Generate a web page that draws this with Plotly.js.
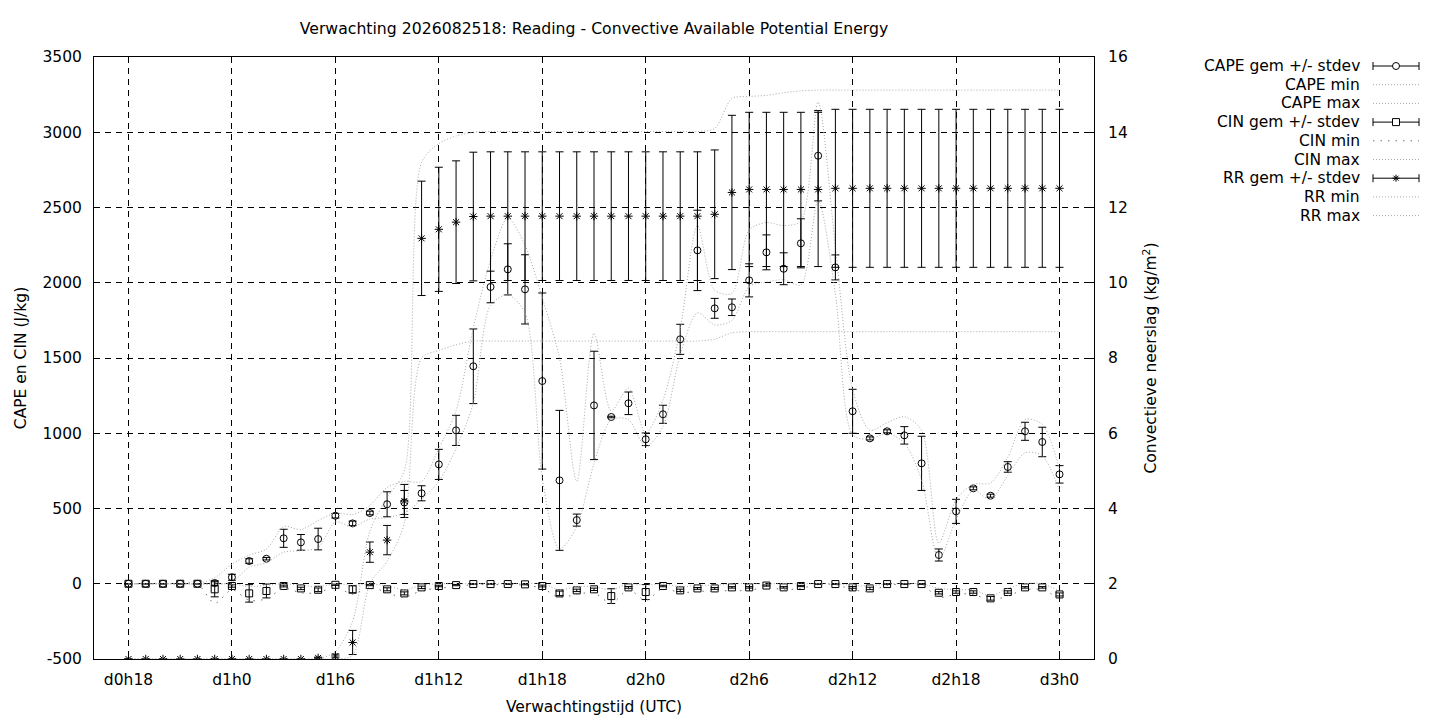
<!DOCTYPE html>
<html>
<head>
<meta charset="utf-8">
<script src="https://cdn.plot.ly/plotly-3.0.1.min.js"></script>
<style>
  html, body { margin: 0; padding: 0; background: #fff; }
  #plot { width: 1440px; height: 720px; }
</style>
</head>
<body>
<div id="plot"></div>
<script>
// forecast hours from d0h0 (run 2026082518)
var hours = [18, 19, 20, 21, 22, 23, 24, 25, 26, 27, 28, 29, 30, 31, 32, 33, 34, 35, 36,
             37, 38, 39, 40, 41, 42, 43, 44, 45, 46, 47, 48, 49, 50, 51, 52, 53, 54, 55,
             56, 57, 58, 59, 60, 61, 62, 63, 64, 65, 66, 67, 68, 69, 70, 71, 72];

var tickHours  = [18, 24, 30, 36, 42, 48, 54, 60, 66, 72];
var tickLabels = ['d0h18', 'd1h0', 'd1h6', 'd1h12', 'd1h18', 'd2h0', 'd2h6', 'd2h12', 'd2h18', 'd3h0'];

// left axis ticks, with a plain hyphen for the minus like gnuplot
var energyTicks  = [-500, 0, 500, 1000, 1500, 2000, 2500, 3000, 3500];
var energyLabels = ['-500', '0', '500', '1000', '1500', '2000', '2500', '3000', '3500'];

// CAPE (J/kg)
var capeMean = [0, 0, 0, 0, 0, 5, 43, 151, 166, 302, 275, 297, 452, 401, 470, 528, 540, 601, 793,
                1019, 1445, 1972, 2089, 1956, 1347, 687, 423, 1185, 1108, 1199, 960, 1126, 1624, 2215, 1830, 1837, 2016, 2202,
                2093, 2262, 2844, 2102, 1146, 966, 1013, 986, 800, 191, 481, 634, 585, 776, 1013, 942, 727];
var capeStd  = [0, 0, 0, 0, 0, 15, 20, 15, 8, 60, 52, 72, 15, 15, 12, 83, 80, 50, 100,
                100, 248, 105, 170, 230, 585, 465, 40, 360, 5, 75, 42, 60, 100, 267, 66, 55, 110, 116,
                106, 163, 300, 83, 146, 10, 10, 58, 180, 40, 80, 10, 10, 35, 60, 98, 58];
var capeMin  = [0, 0, 0, 0, 0, 0, 10, 110, 140, 210, 220, 240, 410, 380, 430, 440, 470, 560, 680,
                900, 1200, 1850, 1920, 1800, 700, 230, 380, 800, 1090, 1090, 910, 1045, 1520, 1800, 1720, 1750, 1975, 2005,
                2020, 1985, 2550, 1930, 990, 960, 1000, 935, 690, 160, 425, 620, 560, 720, 870, 850, 620];
var capeMax  = [0, 0, 0, 0, 0, 40, 130, 190, 230, 380, 360, 420, 470, 460, 520, 640, 680, 680, 900,
                1150, 1700, 2150, 2430, 2250, 1900, 1500, 680, 1665, 1150, 1300, 1000, 1220, 1690, 2380, 1950, 1930, 2350, 2400,
                2380, 2410, 3200, 2240, 1290, 1020, 1070, 1110, 1020, 270, 560, 660, 670, 840, 1090, 1060, 760];

// CIN (J/kg)
var cinMean = [0, 0, 0, 0, 0, -37, -15, -64, -48, -15, -31, -40, -7, -37, -9, -37, -64, -24, -15,
               -9, -2, -2, -2, -4, -15, -64, -44, -37, -82, -24, -55, -15, -44, -31, -31, -24, -24, -12,
               -24, -15, -2, -2, -24, -31, -2, -2, -2, -60, -55, -55, -97, -55, -24, -24, -71];
var cinStd  = [0, 0, 0, 0, 0, 50, 8, 58, 46, 6, 8, 12, 4, 25, 4, 10, 10, 8, 5,
               4, 2, 2, 2, 3, 6, 15, 8, 8, 49, 6, 50, 5, 8, 6, 6, 5, 5, 4,
               5, 4, 2, 2, 6, 8, 2, 2, 2, 8, 8, 8, 12, 8, 5, 5, 10];
var cinMin  = [0, 0, 0, 0, 0, -130, -40, -110, -100, -30, -60, -60, -20, -70, -20, -60, -90, -45, -30,
               -20, -5, -5, -5, -10, -30, -90, -70, -60, -130, -40, -110, -30, -60, -50, -50, -45, -45, -20,
               -40, -30, -5, -5, -40, -50, -10, -5, -5, -90, -70, -70, -110, -80, -40, -40, -100];
var cinMax  = [0, 0, 0, 0, 0, -5, 0, -20, -10, 0, -10, -20, 0, -10, 0, -15, -40, -10, 0,
               0, 0, 0, 0, 0, 0, -40, -20, -20, -40, 0, -10, 0, -20, -10, -10, 0, 0, 0,
               0, 0, 0, 0, -10, -15, 0, 0, 0, -30, -40, -40, -80, -30, 0, 0, -50];

// convective precipitation (kg/m2)
var rrMean = [0, 0, 0, 0, 0, 0, 0, 0, 0, 0, 0, 0.03, 0.08, 0.44, 2.84, 3.16, 4.2, 11.18, 11.42,
              11.61, 11.76, 11.77, 11.77, 11.77, 11.77, 11.77, 11.77, 11.77, 11.77, 11.77, 11.77, 11.77, 11.77, 11.77, 11.82, 12.40, 12.48, 12.48,
              12.48, 12.48, 12.48, 12.51, 12.51, 12.51, 12.51, 12.51, 12.51, 12.51, 12.51, 12.51, 12.51, 12.51, 12.51, 12.51, 12.51];
var rrStd  = [0, 0, 0, 0, 0, 0, 0, 0, 0, 0, 0, 0.02, 0.05, 0.32, 0.27, 0.39, 0.44, 1.52, 1.65,
              1.63, 1.71, 1.71, 1.71, 1.71, 1.71, 1.71, 1.71, 1.71, 1.71, 1.71, 1.71, 1.71, 1.71, 1.71, 1.71, 2.05, 2.05, 2.05,
              2.05, 2.05, 2.05, 2.1, 2.1, 2.1, 2.1, 2.1, 2.1, 2.1, 2.1, 2.1, 2.1, 2.1, 2.1, 2.1, 2.1];
var rrMin  = [0, 0, 0, 0, 0, 0, 0, 0, 0, 0, 0, 0, 0, 0.1, 2.0, 2.6, 3.6, 8.0, 8.2,
              8.35, 8.45, 8.45, 8.45, 8.45, 8.45, 8.45, 8.45, 8.45, 8.45, 8.45, 8.45, 8.45, 8.45, 8.45, 8.5, 8.67, 8.7, 8.7,
              8.7, 8.7, 8.7, 8.7, 8.7, 8.7, 8.7, 8.7, 8.7, 8.7, 8.7, 8.7, 8.7, 8.7, 8.7, 8.7, 8.7];
var rrMax  = [0, 0, 0, 0, 0, 0, 0, 0, 0, 0, 0, 0, 0.2, 1.0, 3.4, 4.3, 5.0, 13.2, 13.7,
              13.9, 14.0, 14.02, 14.02, 14.02, 14.02, 14.02, 14.02, 14.02, 14.02, 14.02, 14.02, 14.02, 14.02, 14.02, 14.1, 14.9, 14.95, 14.98,
              15.05, 15.1, 15.12, 15.12, 15.12, 15.12, 15.12, 15.12, 15.12, 15.12, 15.12, 15.12, 15.12, 15.12, 15.12, 15.12, 15.12];

var legendNames = ['CAPE gem +/- stdev', 'CAPE min', 'CAPE max',
                   'CIN gem +/- stdev', 'CIN min', 'CIN max',
                   'RR gem +/- stdev', 'RR min', 'RR max'];

var FONT = 'DejaVu Sans, sans-serif';
var GREY = '#a8a8a8';
var DOTS = '1px,2px';
var CIN_DOTS = '1.5px,6px';

// plot area in pixels (used to place the hand-made legend)
var L = 94, T = 57, W = 1000, H = 602;
function px2x(px) { return (px - L) / W; }
function px2y(py) { return (T + H - py) / H; }

function meanTrace(y, err, symbol, axis) {
    return {
        x: hours, y: y, yaxis: axis, type: 'scatter', mode: 'markers',
        marker: { symbol: symbol, size: 7, color: 'black', line: { color: 'black', width: 1 } },
        error_y: { type: 'data', array: err, visible: true, color: 'black', thickness: 1, width: 4 },
        showlegend: false, hoverinfo: 'x+y'
    };
}

function rangeTrace(y, axis, color, dash) {
    return {
        x: hours, y: y, yaxis: axis, type: 'scatter', mode: 'lines',
        line: { color: color, width: 1, dash: dash, shape: 'spline', smoothing: 0.8 },
        showlegend: false, hoverinfo: 'x+y'
    };
}

var data = [
    meanTrace(capeMean, capeStd, 'circle-open', 'y'),
    rangeTrace(capeMin, 'y', GREY, DOTS),
    rangeTrace(capeMax, 'y', GREY, DOTS),
    meanTrace(cinMean, cinStd, 'square-open', 'y'),
    rangeTrace(cinMin, 'y', '#707070', CIN_DOTS),
    rangeTrace(cinMax, 'y', GREY, DOTS),
    meanTrace(rrMean, rrStd, 'asterisk-open', 'y2'),
    rangeTrace(rrMin, 'y2', GREY, DOTS),
    rangeTrace(rrMax, 'y2', GREY, DOTS)
];

//////////////////////////////////////////////
// legend: text right aligned, sample on the
// right of it, the gnuplot way
//////////////////////////////////////////////
var annotations = [];
var shapes = [];
var rowY = [66, 84.7, 103.4, 122.1, 140.8, 159.5, 178.2, 196.9, 215.6];
var sx0 = 1373, sx1 = 1419, sxm = 1396;

legendNames.forEach(function (name, i) {
    var py = rowY[i];
    annotations.push({
        xref: 'paper', yref: 'paper', x: px2x(1362), y: px2y(py),
        xanchor: 'right', yanchor: 'middle', showarrow: false,
        text: name, font: { family: FONT, size: 15.5, color: 'black' }
    });
    if (i % 3 === 0) {
        shapes.push({ type: 'line', xref: 'paper', yref: 'paper',
            x0: px2x(sx0), x1: px2x(sx1), y0: px2y(py), y1: px2y(py),
            line: { color: 'black', width: 1 } });
        [sx0, sx1].forEach(function (sx) {
            shapes.push({ type: 'line', xref: 'paper', yref: 'paper',
                x0: px2x(sx), x1: px2x(sx), y0: px2y(py - 4), y1: px2y(py + 4),
                line: { color: 'black', width: 1 } });
        });
    } else {
        var isCin = (i === 4);
        shapes.push({ type: 'line', xref: 'paper', yref: 'paper',
            x0: px2x(sx0), x1: px2x(sx1), y0: px2y(py), y1: px2y(py),
            line: { color: isCin ? '#707070' : GREY, width: 1, dash: isCin ? CIN_DOTS : DOTS } });
    }
});

// sample markers
shapes.push({ type: 'circle', xref: 'paper', yref: 'paper',
    x0: px2x(sxm - 3.5), x1: px2x(sxm + 3.5), y0: px2y(rowY[0] + 3.5), y1: px2y(rowY[0] - 3.5),
    fillcolor: 'white', line: { color: 'black', width: 1 } });
shapes.push({ type: 'rect', xref: 'paper', yref: 'paper',
    x0: px2x(sxm - 3.5), x1: px2x(sxm + 3.5), y0: px2y(rowY[3] + 3.5), y1: px2y(rowY[3] - 3.5),
    fillcolor: 'white', line: { color: 'black', width: 1 } });
(function () {
    var cy = rowY[6], r = 3.5, d = 2.5;
    var segs = [[0, -r, 0, r], [-r, 0, r, 0], [-d, -d, d, d], [-d, d, d, -d]];
    segs.forEach(function (s) {
        shapes.push({ type: 'line', xref: 'paper', yref: 'paper',
            x0: px2x(sxm + s[0]), x1: px2x(sxm + s[2]), y0: px2y(cy + s[1]), y1: px2y(cy + s[3]),
            line: { color: 'black', width: 1 } });
    });
})();

var axisFont = { family: FONT, size: 15.5, color: 'black' };

var layout = {
    width: 1440, height: 720,
    margin: { l: L, r: 1440 - L - W, t: T, b: 720 - T - H, pad: 0 },
    paper_bgcolor: 'white', plot_bgcolor: 'white',
    font: axisFont,
    showlegend: false,
    title: {
        text: 'Verwachting 2026082518: Reading - Convective Available Potential Energy',
        font: { family: FONT, size: 15.7, color: 'black' }, x: 0.5, xref: 'paper', xanchor: 'center',
        y: 1 - 29 / 720, yref: 'container', yanchor: 'middle'
    },
    xaxis: {
        range: [16, 74], tickmode: 'array', tickvals: tickHours, ticktext: tickLabels,
        ticks: 'inside', ticklen: 6, tickcolor: 'black', tickfont: axisFont,
        showline: true, linecolor: 'black', linewidth: 1, mirror: 'ticks',
        showgrid: true, gridcolor: 'black', gridwidth: 1, griddash: '6px,5px',
        zeroline: false, ticklabelstandoff: 6,
        title: { text: 'Verwachtingstijd (UTC)', font: axisFont, standoff: 13 }
    },
    yaxis: {
        range: [-500, 3500], tickmode: 'array', tickvals: energyTicks, ticktext: energyLabels,
        ticks: 'inside', ticklen: 6, tickcolor: 'black', tickfont: axisFont,
        showline: true, linecolor: 'black', linewidth: 1,
        showgrid: true, gridcolor: 'black', gridwidth: 1, griddash: '6px,5px',
        zeroline: false, ticklabelstandoff: 8,
        title: { text: 'CAPE en CIN (J/kg)', font: axisFont, standoff: 12 }
    },
    yaxis2: {
        range: [0, 16], tick0: 0, dtick: 2, overlaying: 'y', side: 'right',
        ticks: 'inside', ticklen: 6, tickcolor: 'black', tickfont: axisFont,
        showline: true, linecolor: 'black', linewidth: 1,
        showgrid: false, zeroline: false, ticklabelstandoff: 10,
        title: { text: 'Convectieve neerslag (kg/m<sup>2</sup>)', font: axisFont, standoff: 18 }
    },
    annotations: annotations,
    shapes: shapes
};

Plotly.newPlot('plot', data, layout, { staticPlot: true, displayModeBar: false });
</script>
</body>
</html>
